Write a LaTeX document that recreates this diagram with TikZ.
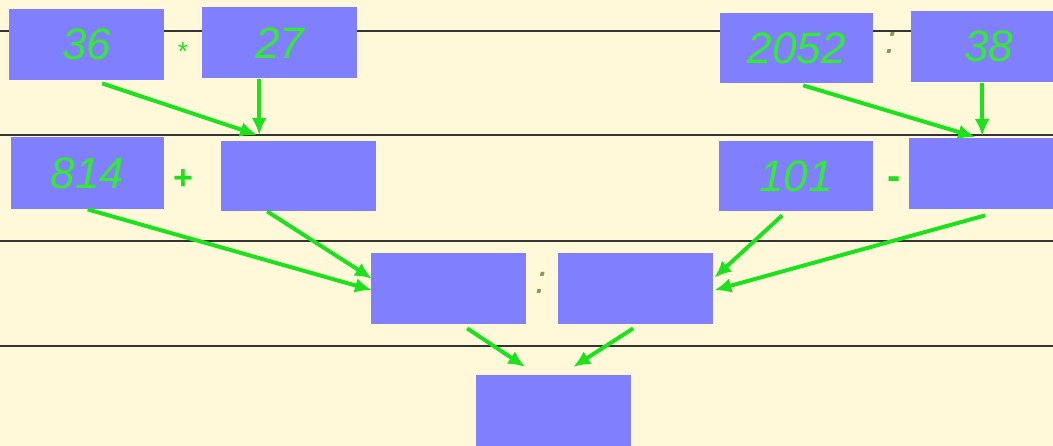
\documentclass[tikz,border=0pt]{standalone}
\usepackage{fontspec}
\setmainfont{Liberation Sans}
\usetikzlibrary{arrows.meta}
\definecolor{bgc}{RGB}{255,249,218}
\definecolor{boxc}{RGB}{128,128,255}
\definecolor{grn}{RGB}{30,225,30}
\definecolor{txtg}{RGB}{50,235,50}
\definecolor{dotc}{RGB}{135,150,90}
\begin{document}
\begin{tikzpicture}[x=1pt,y=-1pt,
  numbox/.style={fill=boxc,draw=none,inner sep=0pt,anchor=north west,text=txtg,
    font=\fontsize{44}{44}\selectfont\itshape},
  rule/.style={draw=black!80,line width=2pt},
  arr/.style={draw=grn,line width=4pt,-{Latex[length=17pt,width=15pt]}},
  op/.style={text=grn,inner sep=0pt}]
\useasboundingbox[fill=bgc] (0,0) rectangle (1053,446);
% rules
\draw[rule] (0,31) -- (1053,31);
\draw[rule] (0,135) -- (1053,135);
\draw[rule] (0,241) -- (1053,241);
\draw[rule] (0,346) -- (1053,346);
% row 1
\node[numbox,minimum width=155pt,minimum height=71pt] (b36) at (9,9) {36};
\node[numbox,minimum width=155pt,minimum height=71pt] (b27) at (202,7) {27};
\node[numbox,minimum width=153pt,minimum height=70pt] (b2052) at (720,13) {2052};
\node[numbox,minimum width=155pt,minimum height=71pt] (b38) at (911,11) {38};
% row 2
\node[numbox,minimum width=153pt,minimum height=72pt] (b814) at (11,137) {814};
\node[numbox,minimum width=155pt,minimum height=70pt] (c1) at (221,141) {};
\node[numbox,minimum width=154pt,minimum height=70pt] (b101) at (719,141) {101};
\node[numbox,minimum width=155pt,minimum height=71pt] (c2) at (909,138) {};
% row 3
\node[numbox,minimum width=155pt,minimum height=71pt] (d1) at (371,253) {};
\node[numbox,minimum width=155pt,minimum height=71pt] (d2) at (558,253) {};
% row 4
\node[numbox,minimum width=155pt,minimum height=80pt] (e) at (476,375) {};
% operators
\node[op,font=\fontsize{26}{26}\selectfont] (opmul) at (183,52) {*};
\node[op,font=\fontsize{34}{34}\selectfont\bfseries] (opadd) at (183,180) {+};
\node[op,text=dotc,font=\fontsize{40}{40}\selectfont\itshape] (opdiv1) at (891,43) {:};
\node[op,font=\fontsize{40}{40}\selectfont\bfseries] (opsub) at (894,183) {-};
\node[op,text=dotc,font=\fontsize{40}{40}\selectfont\itshape] (opdiv2) at (541,283) {:};
% arrows
\draw[arr] ([shift={(15.5,3)}]b36.south) -- ([shift={(-41.5,-6)}]c1.north);
\draw[arr] ([shift={(-20.5,1)}]b27.south) -- ([shift={(-39.5,-6)}]c1.north);
\draw[arr] ([shift={(6.5,2)}]b2052.south) -- ([shift={(-11.5,-1)}]c2.north);
\draw[arr] ([shift={(-6.5,1)}]b38.south) -- ([shift={(-4.5,-2)}]c2.north);
\draw[arr] ([shift={(0,0)}]b814.south) -- ([shift={(1,1.5)}]d1.west);
\draw[arr] ([shift={(-31.5,0)}]c1.south) -- ([shift={(1,-10)}]d1.west);
\draw[arr] ([shift={(-14,4)}]b101.south) -- ([shift={(1,-11)}]d2.east);
\draw[arr] ([shift={(-1.5,6)}]c2.south) -- ([shift={(1,1.5)}]d2.east);
\draw[arr] ([shift={(18.5,4)}]d1.south) -- ([shift={(-28.5,-8)}]e.north);
\draw[arr] ([shift={(-2.5,4)}]d2.south) -- ([shift={(19.5,-8)}]e.north);
\end{tikzpicture}
\end{document}
